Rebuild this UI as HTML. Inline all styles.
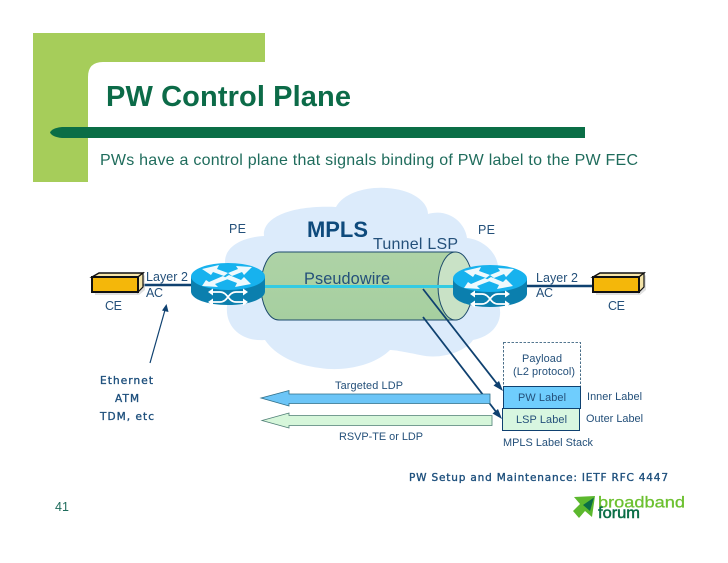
<!DOCTYPE html>
<html><head><meta charset="utf-8"><style>
html,body{margin:0;padding:0;background:#fff}
svg{display:block}
text{font-family:"Liberation Sans",sans-serif;fill:#24507a}
.m{font-family:"DejaVu Sans",sans-serif;fill:#1d4f7c;stroke:#1d4f7c;stroke-width:.35px}
</style></head><body>
<svg width="728" height="563" viewBox="0 0 728 563" xmlns="http://www.w3.org/2000/svg">
<defs>
<linearGradient id="cy" x1="0" y1="0" x2="0" y2="1"><stop offset="0" stop-color="#aed3a6"/><stop offset="1" stop-color="#a6cfa0"/></linearGradient>
<g id="router">
<path d="M0 13.500V28.500C0 36 16 42 37 42S74 36 74 28.500V13.500Z" fill="#0b7fae"/>
<ellipse cx="37" cy="13.500" rx="37" ry="13.500" fill="#17b2ee"/>
<path d="M11 6L28 2L26 6L37 10L33 13L22 9L20 12Z M61 4L45 3L47 6L37 10L41 13L51 9L53 12Z M11 23L15 17L18 19L32 13L37 16L24 21L27 24Z M60 21L44 24L46 20L33 15L38 12L50 17L53 14Z" fill="#eef9fd"/>
<path d="M21 29H29C37 29 37 39 45 39H53M21 39H29C37 39 37 29 45 29H53" fill="none" stroke="#fff" stroke-width="1.800"/>
<path d="M22 25.500V32.500L17 29ZM52 25.500V32.500L57 29ZM22 35.500V42.500L17 39ZM52 35.500V42.500L57 39Z" fill="#fff"/>
</g>
<g id="ce">
<path d="M48 7L54 3V18L48 23H4V21H46Z" fill="#ccc" opacity=".6"/>
<path d="M1 5L8 1H52L47 5Z" fill="#f8e6a8" stroke="#111" stroke-width="1.400"/>
<path d="M47 5L52 1V15L47 20Z" fill="#f3e3a8" stroke="#111" stroke-width="1.200"/>
<rect x="1" y="5" width="46" height="15" fill="#f4b70a" stroke="#111" stroke-width="2"/>
</g>
</defs>

<!-- template -->
<path d="M33 33H265V62H103Q88 62 88 77V182H33Z" fill="#a6cd5a"/>
<path d="M50 132.500Q52 128 62 127H585V138H62Q52 137 50 132.500Z" fill="#0a6e46"/>
<text x="106" y="106" font-size="29" font-weight="bold" style="fill:#0c6b48" textLength="245" lengthAdjust="spacing">PW Control Plane</text>
<text x="100" y="165" font-size="16" style="fill:#1f6c5c" textLength="538" lengthAdjust="spacing">PWs have a control plane that signals binding of PW label to the PW FEC</text>

<!-- cloud -->
<path d="M225 262C225 245 245 237 264 236C262 218 290 205 336 207C345 190 375 185 395 189C415 192 428 203 428 214C448 208 465 222 467 238C485 240 500 255 498 272L497 300C505 315 498 335 473 340C465 352 440 360 420 355C405 352 395 350 390 350C375 365 345 372 320 368C295 365 275 355 265 340C240 342 222 325 228 300Z" fill="#dcebfb"/>

<!-- cylinder -->
<path d="M279 252H456V320H279C268 320 261 303 261 286C261 269 268 252 279 252Z" fill="url(#cy)" stroke="#1d4b6c" stroke-width="1"/>
<ellipse cx="455.500" cy="286" rx="17.500" ry="34" fill="#c9e2c6" stroke="#1d4b6c" stroke-width="1"/>

<!-- lines -->
<line x1="143" y1="285" x2="192" y2="285" stroke="#0f4170" stroke-width="2.600"/>
<line x1="527" y1="286" x2="593" y2="286" stroke="#0f4170" stroke-width="2.600"/>
<line x1="264" y1="286.500" x2="454" y2="286.500" stroke="#33cbe2" stroke-width="3"/>

<use href="#router" x="191" y="263"/>
<use href="#router" x="453" y="265"/>
<use href="#ce" x="91" y="272"/>
<use href="#ce" x="592" y="272"/>

<!-- diagonal connectors -->
<line x1="423" y1="289" x2="498" y2="385" stroke="#0f4170" stroke-width="1.800"/>
<path d="M503 391L493.500 385.500L499 381Z" fill="#0f4170"/>
<line x1="423" y1="317" x2="497" y2="413" stroke="#0f4170" stroke-width="1.800"/>
<path d="M502 419L492.500 413.500L498 409Z" fill="#0f4170"/>
<line x1="150" y1="363" x2="165" y2="310" stroke="#0f4170" stroke-width="1.200"/>
<path d="M166.500 304L168.500 312L162 310.500Z" fill="#0f4170"/>

<!-- big arrows -->
<path d="M261 398L289 390.500V394H490V403.500H289V406Z" fill="#6cc5f7" stroke="#2f6f88" stroke-width="0.800"/>
<path d="M262 420.500L289 413V415.500H492V425.500H289V428Z" fill="#d6f6da" stroke="#4f7f76" stroke-width="0.800"/>

<!-- stack -->
<rect x="503.500" y="342.500" width="77" height="44" fill="#fff" stroke="#1d4b6c" stroke-width="0.800" stroke-dasharray="2.500 1.500"/>
<rect x="503.500" y="386.500" width="77" height="22" fill="#6fcdfd" stroke="#0f4170" stroke-width="1"/>
<rect x="502.500" y="408.500" width="77" height="22" fill="#d8f6e0" stroke="#0f4170" stroke-width="1"/>

<!-- labels -->
<text x="229" y="233" font-size="12.500" textLength="17">PE</text>
<text x="478" y="234" font-size="12.500" textLength="17">PE</text>
<text x="307" y="237" font-size="22" font-weight="bold" style="fill:#0e4a7c" textLength="61" lengthAdjust="spacingAndGlyphs">MPLS</text>
<text x="373" y="249" font-size="16" textLength="85">Tunnel LSP</text>
<text x="304" y="284" font-size="16.300" textLength="86">Pseudowire</text>
<text x="146" y="281" font-size="12.500" textLength="42">Layer 2</text>
<text x="146" y="297" font-size="12.500" textLength="17">AC</text>
<text x="536" y="282" font-size="12.500" textLength="42">Layer 2</text>
<text x="536" y="297" font-size="12.500" textLength="17">AC</text>
<text x="105" y="310" font-size="12.500" textLength="17">CE</text>
<text x="608" y="310" font-size="12.500" textLength="17">CE</text>
<text x="100" y="384" class="m" font-size="10.500" textLength="53">Ethernet</text>
<text x="115" y="402" class="m" font-size="10.500" textLength="24">ATM</text>
<text x="100" y="420" class="m" font-size="10.500" textLength="54">TDM, etc</text>
<text x="335" y="389" font-size="10.900" textLength="68">Targeted LDP</text>
<text x="339" y="440" font-size="10.900" textLength="84">RSVP-TE or LDP</text>
<text x="522" y="362" font-size="10.900" textLength="40">Payload</text>
<text x="513" y="375" font-size="10.900" textLength="62">(L2 protocol)</text>
<text x="518" y="401" font-size="10.900" textLength="48">PW Label</text>
<text x="516" y="423" font-size="10.900" textLength="51">LSP Label</text>
<text x="587" y="400" font-size="10.900" textLength="55">Inner Label</text>
<text x="586" y="422" font-size="10.900" textLength="57">Outer Label</text>
<text x="503" y="446" font-size="10.900" textLength="90">MPLS Label Stack</text>
<text x="409" y="481" class="m" font-size="10.500" textLength="259">PW Setup and Maintenance: IETF RFC 4447</text>
<text x="55" y="511" font-size="12.500" style="fill:#1f6c5c" textLength="14">41</text>

<!-- logo -->
<path d="M574 497L595 496L592 517L585 511L579 518L573 511L580 504Z" fill="#5cb82e"/>
<path d="M583 505L594 497.500L590 511Z" fill="#0a6e46"/>
<text x="598" y="507.500" font-size="16" style="fill:#6cc02f;stroke:#6cc02f;stroke-width:.3px" textLength="87" lengthAdjust="spacingAndGlyphs">broadband</text>
<text x="598" y="518" font-size="16" style="fill:#0a6e46;stroke:#0a6e46;stroke-width:.5px" textLength="42" lengthAdjust="spacingAndGlyphs">forum</text>
</svg>
</body></html>
